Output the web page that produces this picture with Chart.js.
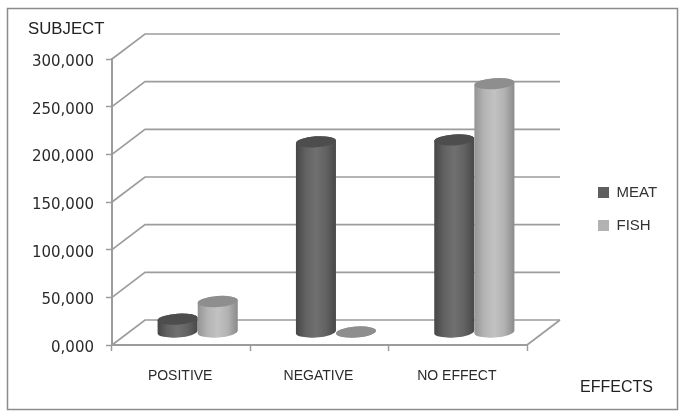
<!DOCTYPE html>
<html>
<head>
<meta charset="utf-8">
<style>
  html, body { margin: 0; padding: 0; background: #fff; }
  #wrap { width: 682px; height: 417px; }
</style>
<script src="https://cdn.jsdelivr.net/npm/chart.js@4"></script>
</head>
<body>
<div id="wrap"><canvas id="chart" width="682" height="417"></canvas></div>
<script>
const categories = ['POSITIVE', 'NEGATIVE', 'NO EFFECT'];
const meatValues = [14, 200, 202];
const fishValues = [32.5, 0.5, 261];
const yTickLabels = ['0,000', '50,000', '100,000', '150,000', '200,000', '250,000', '300,000'];
const seriesNames = ['MEAT', 'FISH'];
const yAxisName = 'SUBJECT';
const xAxisName = 'EFFECTS';

// depth of the fake 3d box
const DEPTH_X = 33;
const DEPTH_Y = 25;
const LINE_GREY = '#9c9c9c';
const TILT = -4 * Math.PI / 180;

// gradient stops across a cylinder, then top cap colour
const shading = {
    MEAT: { stops: ['#464646', '#626262', '#707070', '#626262', '#484848'], cap: '#4d4d4d' },
    FISH: { stops: ['#949494', '#b4b4b4', '#c2c2c2', '#b2b2b2', '#8a8a8a'], cap: '#8e8e8e' }
};

function drawCylinder(ctx, bar, shade) {
    const rx = bar.width / 2;
    const ry = 5.5;
    const cx = bar.x + DEPTH_X / 2;
    const top = bar.y - DEPTH_Y / 2;
    const bottom = bar.base - DEPTH_Y / 2;
    const grad = ctx.createLinearGradient(cx - rx, 0, cx + rx, 0);
    shade.stops.forEach((c, i) => grad.addColorStop(i / (shade.stops.length - 1), c));
    ctx.fillStyle = grad;
    ctx.beginPath();
    ctx.ellipse(cx, top, rx, ry, TILT, Math.PI, 0, false);
    ctx.ellipse(cx, bottom, rx, ry, TILT, 0, Math.PI, false);
    ctx.closePath();
    ctx.fill();
    ctx.fillStyle = shade.cap;
    ctx.beginPath();
    ctx.ellipse(cx, top, rx, ry, TILT, 0, Math.PI * 2);
    ctx.fill();
}

const box3d = {
    id: 'box3d',
    beforeInit(chart) {
        // legend sits far from the plot, so stretch its box
        const fit = chart.legend.fit;
        chart.legend.fit = function () {
            fit.call(this);
            this.width = 155;
        };
    },
    afterLayout(chart) {
        const legend = chart.legend;
        legend.left = 580;
        legend.top -= 29;
        legend.bottom -= 29;
    },
    beforeDraw(chart) {
        const ctx = chart.ctx;
        ctx.save();
        ctx.strokeStyle = '#8c8c8c';
        ctx.lineWidth = 1.5;
        ctx.strokeRect(7.5, 8.5, 670, 401);
        ctx.restore();
    },
    beforeDatasetsDraw(chart) {
        const ctx = chart.ctx;
        const { left, right } = chart.chartArea;
        const yScale = chart.scales.y;
        ctx.save();
        ctx.strokeStyle = LINE_GREY;
        ctx.lineWidth = 1.7;
        yScale.ticks.forEach((t) => {
            const y = yScale.getPixelForValue(t.value);
            ctx.beginPath();
            ctx.moveTo(left, y);
            ctx.lineTo(left + DEPTH_X, y - DEPTH_Y);
            ctx.lineTo(right + DEPTH_X, y - DEPTH_Y);
            ctx.stroke();
        });
        // right edge of the floor
        const y0 = yScale.getPixelForValue(0);
        ctx.beginPath();
        ctx.moveTo(right, y0);
        ctx.lineTo(right + DEPTH_X, y0 - DEPTH_Y);
        ctx.stroke();

        chart.data.datasets.forEach((ds, i) => {
            chart.getDatasetMeta(i).data.forEach((bar) => {
                drawCylinder(ctx, bar, shading[ds.label]);
            });
        });
        ctx.restore();
        return false;
    },
    afterDraw(chart) {
        const ctx = chart.ctx;
        ctx.save();
        ctx.fillStyle = '#222';
        ctx.textBaseline = 'alphabetic';
        ctx.font = '16.8px "Liberation Sans"';
        ctx.fillText(yAxisName, 28, 34);
        ctx.font = '16px "Liberation Sans"';
        ctx.fillText(xAxisName, 580, 392);
        ctx.restore();
    }
};

new Chart(document.getElementById('chart'), {
    type: 'bar',
    data: {
        labels: categories,
        datasets: [
            { label: seriesNames[0], data: meatValues, backgroundColor: '#5f5f5f' },
            { label: seriesNames[1], data: fishValues, backgroundColor: '#b2b2b2' }
        ]
    },
    plugins: [box3d],
    options: {
        responsive: false,
        animation: false,
        events: [],
        layout: { padding: { top: 59, left: 0, right: 0, bottom: 0 } },
        categoryPercentage: 0.58,
        barPercentage: 1,
        plugins: {
            tooltip: { enabled: false },
            title: { display: false },
            legend: {
                position: 'right',
                labels: {
                    boxWidth: 11,
                    boxHeight: 11,
                    padding: 18,
                    color: '#333',
                    font: { family: '"Liberation Sans"', size: 15 }
                }
            }
        },
        scales: {
            x: {
                afterFit(scale) { scale.height = 72; },
                grid: {
                    drawOnChartArea: false,
                    drawTicks: true,
                    tickLength: 6,
                    tickColor: LINE_GREY,
                    tickWidth: 1.5
                },
                border: { color: LINE_GREY, width: 2 },
                ticks: {
                    padding: 17,
                    maxRotation: 0,
                    labelOffset: -1,
                    color: '#2b2b2b',
                    font: { family: '"Liberation Sans"', size: 14 }
                }
            },
            y: {
                min: 0,
                max: 300,
                afterFit(scale) { scale.width = 112; },
                grid: {
                    drawOnChartArea: false,
                    drawTicks: true,
                    tickLength: 6,
                    tickColor: LINE_GREY,
                    tickWidth: 1.5
                },
                border: { color: LINE_GREY, width: 2 },
                ticks: {
                    stepSize: 50,
                    padding: 12,
                    labelOffset: 3,
                    color: '#2b2b2b',
                    font: { family: '"DejaVu Sans"', size: 15 },
                    callback(value, index) { return yTickLabels[index]; }
                }
            }
        }
    }
});
</script>
</body>
</html>
